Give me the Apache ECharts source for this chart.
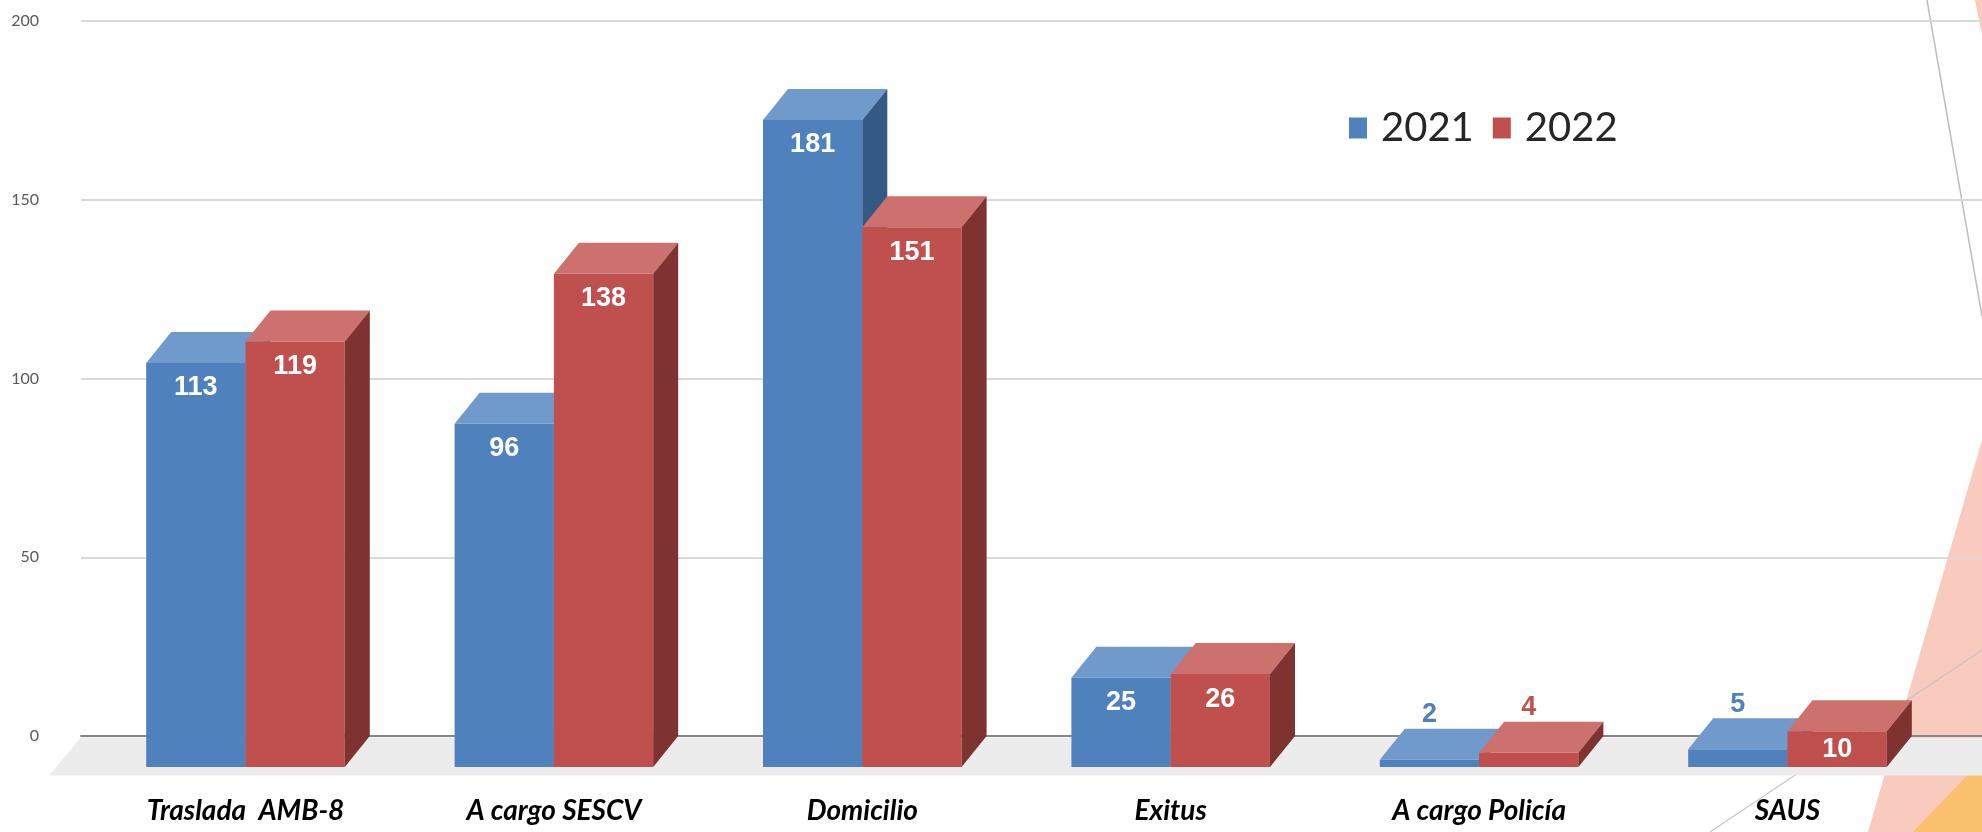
<!DOCTYPE html>
<html>
<head>
<meta charset="utf-8">
<title>Traslados 2021 - 2022</title>
<script src="https://cdn.jsdelivr.net/npm/echarts@6/dist/echarts.min.js"></script>
<style>
  html, body { margin: 0; padding: 0; background: #fff; }
  #main { width: 1982px; height: 832px; }
</style>
</head>
<body>
<div id="main"></div>
<script>
// datos
var categories = ['Traslada  AMB-8', 'A cargo SESCV', 'Domicilio', 'Exitus', 'A cargo Policía', 'SAUS']
var years = ['2021', '2022']
var values2021 = [113, 96, 181, 25, 2, 5]
var values2022 = [119, 138, 151, 26, 4, 10]
var yMin = 0
var yMax = 200
var yStep = 50

// colores (frente, tapa, lateral)
var palette = [
  { front: '#4F81BD', top: '#7099CC', side: '#345985' },
  { front: '#C0504D', top: '#CD716E', side: '#7E3331' }
]
var HUMAN = 'Lato, "Open Sans", "Liberation Sans", sans-serif'
var DEPTH_X = 25   // desplazamiento 3D
var DEPTH_Y = 31

var chart = echarts.init(document.getElementById('main'))

// barras 3D: el frente en el plano delantero, la escala en la pared del fondo
function renderBar (params, api) {
  var s = params.seriesIndex - 1
  var idx = api.value(0)
  var v = api.value(1)
  var base = api.coord([idx, 0])
  var top = api.coord([idx, v])
  var band = api.size([1, 0])[0]
  var w = band * 0.322
  var cx = base[0]
  var x0 = s === 0 ? cx - w : cx
  var x1 = x0 + w
  var yF = top[1] + DEPTH_Y
  var yB = base[1] + DEPTH_Y
  var c = palette[s]
  var children = [
    { type: 'rect', shape: { x: x0, y: yF, width: w, height: yB - yF }, style: { fill: c.front } },
    { type: 'polygon', shape: { points: [[x0, yF], [x1, yF], [x1 + DEPTH_X, yF - DEPTH_Y], [x0 + DEPTH_X, yF - DEPTH_Y]] }, style: { fill: c.top } },
    { type: 'polygon', shape: { points: [[x1, yF], [x1 + DEPTH_X, yF - DEPTH_Y], [x1 + DEPTH_X, yB - DEPTH_Y], [x1, yB]] }, style: { fill: c.side } }
  ]
  var inside = v >= 8
  children.push({
    type: 'text',
    style: {
      text: String(v),
      x: (x0 + x1) / 2,
      y: inside ? Math.min(yF + 25, (yF + yB) / 2) : yF - DEPTH_Y - 14,
      fill: inside ? '#fff' : c.front,
      font: 'bold 27px "Liberation Sans", Arial, sans-serif',
      align: 'center',
      verticalAlign: 'middle'
    }
  })
  return { type: 'group', children: children }
}

// suelo gris bajo las barras
function renderFloor (params, api) {
  var cs = params.coordSys
  var yb = cs.y + cs.height + 1.5
  var xl = cs.x
  var xr = cs.x + cs.width + 40
  return {
    type: 'polygon',
    shape: { points: [[xl, yb], [xr, yb], [xr - 32, yb + 38], [xl - 32, yb + 38]] },
    style: { fill: '#ECECEC' }
  }
}

function toPairs (arr) {
  var out = []
  for (var i = 0; i < arr.length; i++) {
    out.push([i, arr[i]])
  }
  return out
}

var option = {
  backgroundColor: '#fff',
  animation: false,
  graphic: [
    { type: 'polygon', z: -10, shape: { points: [[1868, 832], [1982, 440], [1982, 832]] }, style: { fill: '#F8CBBE' } },
    { type: 'polygon', z: -10, shape: { points: [[1975, 0], [1982, 0], [1982, 35]] }, style: { fill: '#F8CBBE' } },
    { type: 'polygon', z: -9, shape: { points: [[1913, 832], [1982, 760], [1982, 832]] }, style: { fill: '#F9C06D' } },
    { type: 'line', z: -8, shape: { x1: 1927, y1: 0, x2: 1982, y2: 316 }, style: { stroke: '#BDBDBD', lineWidth: 1.5 } },
    { type: 'line', z: -8, shape: { x1: 1982, y1: 650, x2: 1710, y2: 832 }, style: { stroke: '#C8C2C0', lineWidth: 1.2 } }
  ],
  legend: {
    data: years,
    left: 1344,
    top: 99,
    icon: 'rect',
    itemWidth: 18,
    itemHeight: 21,
    itemGap: 19,
    textStyle: {
      fontSize: 40,
      lineHeight: 48,
      fontFamily: HUMAN,
      color: '#262626',
      padding: [0, 0, 0, 9]
    }
  },
  grid: [
    { left: 81, right: 0, top: 21, bottom: 96 },
    { left: 91.3, right: 40.3, top: 21, bottom: 96 }
  ],
  xAxis: [
    {
      gridIndex: 0,
      type: 'value',
      min: 0,
      max: 1,
      axisLine: { show: true, lineStyle: { color: '#868686', width: 2 } },
      axisTick: { show: false },
      axisLabel: { show: false },
      splitLine: { show: false }
    },
    {
      gridIndex: 1,
      type: 'category',
      data: categories,
      axisLine: { show: false },
      axisTick: { show: false },
      splitLine: { show: false },
      axisLabel: {
        interval: 0,
        margin: 60,
        fontSize: 28,
        lineHeight: 30,
        fontStyle: 'italic',
        fontWeight: 'bold',
        fontFamily: HUMAN,
        color: '#000'
      }
    }
  ],
  yAxis: [
    {
      gridIndex: 0,
      type: 'value',
      min: yMin,
      max: yMax,
      interval: yStep,
      axisLine: { show: false },
      axisTick: { show: false },
      axisLabel: { margin: 42, fontSize: 16, color: '#595959', fontFamily: HUMAN },
      splitLine: { lineStyle: { color: '#D9D9D9', width: 2 } }
    },
    {
      gridIndex: 1,
      type: 'value',
      min: yMin,
      max: yMax,
      interval: yStep,
      show: false,
      splitLine: { show: false }
    }
  ],
  series: [
    {
      name: 'floor',
      type: 'custom',
      xAxisIndex: 0,
      yAxisIndex: 0,
      z: 1,
      silent: true,
      renderItem: renderFloor,
      data: [[0, 0]]
    },
    {
      name: years[0],
      type: 'custom',
      xAxisIndex: 1,
      yAxisIndex: 1,
      z: 3,
      itemStyle: { color: palette[0].front },
      renderItem: renderBar,
      data: toPairs(values2021)
    },
    {
      name: years[1],
      type: 'custom',
      xAxisIndex: 1,
      yAxisIndex: 1,
      z: 4,
      itemStyle: { color: palette[1].front },
      renderItem: renderBar,
      data: toPairs(values2022)
    }
  ]
}

chart.setOption(option)
</script>
</body>
</html>
